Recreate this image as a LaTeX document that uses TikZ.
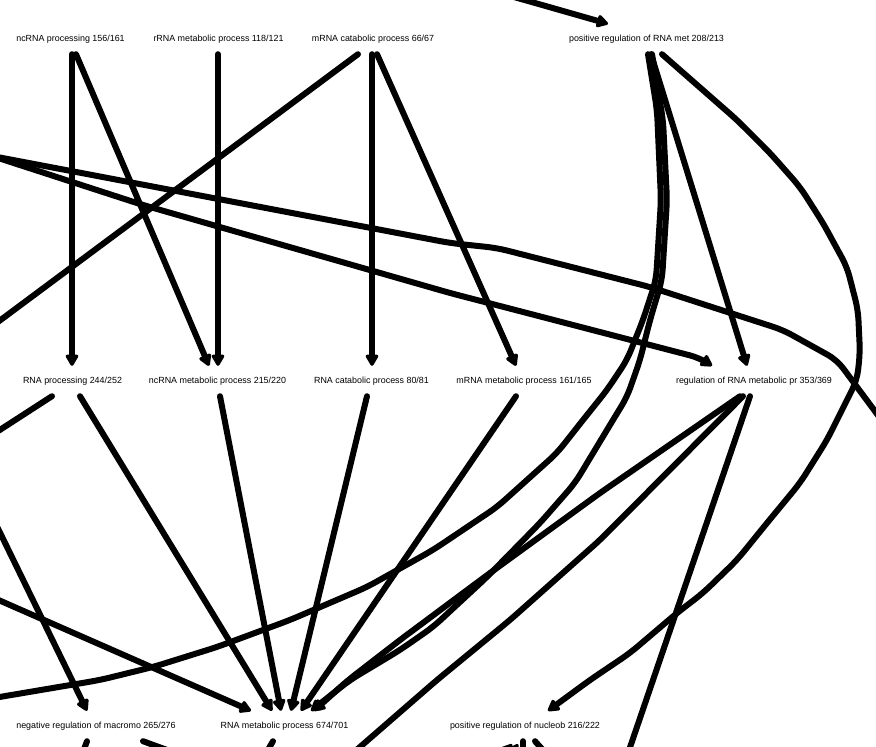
\documentclass[tikz,border=0pt]{standalone}
\usepackage{fontspec}
\setmainfont{Liberation Sans}
\usetikzlibrary{arrows.meta}
\begin{document}
\begin{tikzpicture}[x=1pt,y=-1pt,
  lbl/.style={inner sep=0pt,minimum height=30pt,font=\fontsize{8.9}{11}\selectfont},
  edge/.style={line width=6pt,line cap=round,line join=round},
  arr/.style={edge,-{Triangle[length=13pt,width=14pt,round]}},
  curvy/.style={rounded corners=10pt}]
\useasboundingbox (0,0) rectangle (876,747);
\clip (0,0) rectangle (876,747);
% nodes
\node[lbl] (ncp) at (70.5,39) {ncRNA processing 156/161};
\node[lbl] (rrna) at (218.5,39) {rRNA metabolic process 118/121};
\node[lbl] (mcat) at (373,39) {mRNA catabolic process 66/67};
\node[lbl] (posrna) at (646.5,39) {positive regulation of RNA met 208/213};
\node[lbl] (rnap) at (72.5,381) {RNA processing 244/252};
\node[lbl] (ncmet) at (217.5,381) {ncRNA metabolic process 215/220};
\node[lbl] (rnacat) at (371.5,381) {RNA catabolic process 80/81};
\node[lbl] (mmet) at (524,381) {mRNA metabolic process 161/165};
\node[lbl] (regrna) at (754,381) {regulation of RNA metabolic pr 353/369};
\node[lbl] (negreg) at (96,726) {negative regulation of macromo 265/276};
\node[lbl] (rnamet) at (284.5,726) {RNA metabolic process 674/701};
\node[lbl] (posnuc) at (525,726) {positive regulation of nucleob 216/222};
% off-canvas ends
\coordinate (offtop) at (500,-7);
\coordinate (offL1) at (-8,156);
\coordinate (offL2) at (-12,508);
\coordinate (offL3) at (-22,591);
\coordinate (offR1) at (900,445);
\coordinate (offMC) at (-25,339);
\coordinate (offRP) at (-25,446);
\coordinate (offCL) at (-30,702);
\coordinate (offB1) at (345,760);
\coordinate (offB2) at (625,762);
% top rank edges
\draw[arr] ([xshift=1.5pt]ncp.south) -- ([xshift=-0.5pt]rnap.north);
\draw[arr] ([xshift=5.5pt]ncp.south) -- ([xshift=-8.5pt]ncmet.north);
\draw[arr] ([xshift=-0.5pt]rrna.south) -- ([xshift=0.5pt]ncmet.north);
\draw[arr] ([xshift=-1pt]mcat.south) -- ([xshift=0.5pt]rnacat.north);
\draw[arr] ([xshift=4pt]mcat.south) -- ([xshift=-8pt]mmet.north);
\draw[edge] ([xshift=-15pt]mcat.south) -- (offMC);
\draw[arr] (offtop) -- ([xshift=-38.5pt]posrna.north);
% long lines from the left
\draw[edge,curvy] (offL1) -- (450,243) -- (497,248) -- (650,287) -- (783,330) -- (837,360) -- (offR1);
\draw[arr,curvy] (offL1) -- (143,205) -- (450,293) -- (700,358) -- ([xshift=-42pt]regrna.north);
% from positive regulation of RNA met
\draw[arr] ([xshift=4.5pt]posrna.south) -- ([xshift=-7pt]regrna.north);
\draw[edge,curvy] ([xshift=1.5pt]posrna.south) -- (657,110) -- (661,200) -- (656,280) -- (643,320) -- (627,360) -- (607,390) -- (583,420) -- (557,453) -- (497,507) -- (433,550) -- (367,587) -- (290,620) -- (217,647) -- (153,667) -- (100,680) -- (offCL);
\draw[arr,curvy] ([xshift=5.5pt]posrna.south) -- (663,120) -- (667,200) -- (662,280) -- (650,320) -- (640,360) -- (627,397) -- (613,420) -- (575,483) -- (540,523) -- (487,577) -- (433,627) -- (400,650) -- (350,680) -- ([xshift=26.5pt]rnamet.north);
\draw[arr,curvy] ([xshift=15.5pt]posrna.south) -- (737,120) -- (770,153) -- (800,187) -- (823,223) -- (847,267) -- (858,310) -- (860,353) -- (857,380) -- (847,400) -- (827,440) -- (800,483) -- (767,523) -- (737,560) -- (703,593) -- (677,613) -- (630,653) -- (590,680) -- ([xshift=23pt]posnuc.north);
% from regulation of RNA metabolic pr
\draw[arr,curvy] ([xshift=-14pt]regrna.south) -- (600,493) -- (490,573) -- (400,640) -- (347,681) -- ([xshift=29.5pt]rnamet.north);
\draw[edge,curvy] ([xshift=-11pt]regrna.south) -- (600,540) -- (510,620) -- (437,680) -- (offB1);
\draw[edge] ([xshift=-4pt]regrna.south) -- (offB2);
% second rank to bottom
\draw[arr] ([xshift=7.5pt]rnap.south) -- ([xshift=-12.5pt]rnamet.north);
\draw[edge] ([xshift=-20.5pt]rnap.south) -- (offRP);
\draw[arr] ([xshift=2.5pt]ncmet.south) -- ([xshift=-3.5pt]rnamet.north);
\draw[arr] ([xshift=-4.5pt]rnacat.south) -- ([xshift=6.5pt]rnamet.north);
\draw[arr] ([xshift=-8pt]mmet.south) -- ([xshift=16.5pt]rnamet.north);
\draw[arr] (offL2) -- ([xshift=-9pt]negreg.north);
\draw[arr] (offL3) -- ([xshift=-33.5pt]rnamet.north);
% stubs below bottom rank
\coordinate (b1) at (80,760);
\coordinate (b2) at (200,762);
\coordinate (b3) at (262,760);
\coordinate (b4) at (497,762);
\coordinate (b5) at (505,764);
\coordinate (b6) at (523,765);
\coordinate (b7) at (552,760);
\draw[edge] ([xshift=-9pt]negreg.south) -- (b1);
\draw[edge] ([xshift=47pt]negreg.south) -- (b2);
\draw[edge] ([xshift=-11.5pt]rnamet.south) -- (b3);
\draw[arr] (b4) -- ([xshift=-13pt,yshift=-3pt]posnuc.south);
\draw[arr] (b5) -- ([xshift=-7pt,yshift=-3pt]posnuc.south);
\draw[edge] ([xshift=-2pt]posnuc.south) -- (b6);
\draw[edge] ([xshift=10pt]posnuc.south) -- (b7);
\end{tikzpicture}
\end{document}
